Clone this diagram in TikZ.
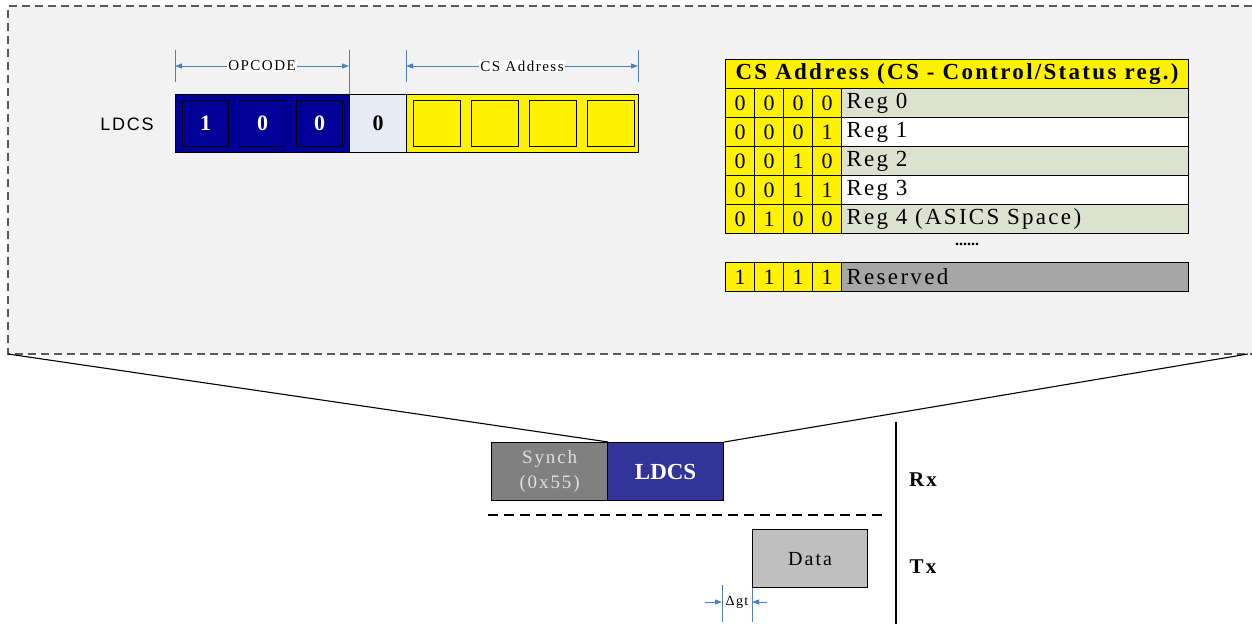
\documentclass[tikz,border=0pt]{standalone}
\usepackage{fontspec}
\setmainfont{Liberation Serif}[LetterSpace=10]
\newfontfamily\sansf{Liberation Sans}[LetterSpace=10]
\usetikzlibrary{arrows.meta}
\newcommand{\fsz}[1]{\fontsize{#1}{#1}\selectfont}
\definecolor{panel}{HTML}{F2F2F2}
\definecolor{edge}{HTML}{595959}
\definecolor{navy}{HTML}{000096}
\definecolor{ldcsblue}{HTML}{333399}
\definecolor{pale}{HTML}{E7EDF6}
\definecolor{dimblue}{HTML}{4F81BD}
\definecolor{rowgreen}{HTML}{DDE1CF}
\definecolor{resgrey}{HTML}{A6A6A6}
\definecolor{synchgrey}{HTML}{808080}
\definecolor{datagrey}{HTML}{BFBFBF}
\tikzset{
  fld/.style    = {draw, line width=1.2pt, inner sep=0pt, anchor=north west},
  bx/.style     = {fld, minimum width=46pt, minimum height=46pt},
  cell/.style   = {fld, minimum height=29pt, font=\fsz{22}},
  bit/.style    = {cell, fill=yellow, minimum width=29pt},
  reg/.style    = {cell, text width=337pt, inner xsep=5pt, align=left, font=\fsz{23}},
  dim/.style    = {draw=dimblue, line width=1pt},
  dl/.style     = {fill=white, inner sep=1pt, font=\fsz{15}},
  pframe/.style = {draw=edge, line width=1.3pt, dash pattern=on 8pt off 5pt},
}

\begin{document}
\begin{tikzpicture}[x=1pt, y=-1pt, line width=1.1pt, >={Triangle[length=7pt, width=5pt]}]
  \useasboundingbox (0,0) rectangle (1252,624);

  % ===== zoom panel =====================================================
  \coordinate (ptl) at (8,6);
  \coordinate (ptr) at (1252,6);
  \coordinate (pbl) at (8,354);
  \coordinate (pbr) at (1252,354);
  \coordinate (pzr) at (1248,354);
  \fill[panel] (ptl) rectangle (pbr);
  \draw[pframe] (ptr) -- (ptl) -- (pbl) -- (pbr);

  % ===== LDCS field =====================================================
  \node[font=\sansf\fsz{18}] (lbl) at (127,124) {LDCS};
  \node[fld, fill=navy, minimum width=174pt, minimum height=58pt] (opc) at (175,94) {};
  \node[fld, fill=pale, minimum width=57pt, minimum height=58pt, font=\fsz{22}\bfseries]
       (flag) at (349,94) {0};
  \node[fld, fill=yellow, minimum width=232pt, minimum height=58pt] (csa) at (406,94) {};
  \foreach \v [count=\i] in {1,0,0}
    \node[bx, fill=navy, text=white, font=\fsz{22}\bfseries] (op\i) at ({182+57*(\i-1)},100) {\v};
  \foreach \i in {1,...,4}
    \node[bx, fill=yellow, minimum width=47pt] (cs\i) at ({413+58*(\i-1)},100) {};

  % dimension lines
  \coordinate (t1a) at (175,50);  \coordinate (t1b) at (175,82);
  \coordinate (t2a) at (349,50);
  \coordinate (t3a) at (406,50);  \coordinate (t3b) at (406,82);
  \coordinate (t4a) at (638,50);  \coordinate (t4b) at (638,82);
  \coordinate (o1) at (175,66);   \coordinate (o2) at (349,66);
  \coordinate (c1) at (406,66);   \coordinate (c2) at (638,66);
  \draw[dim] (t1a) -- (t1b);
  \draw[dim] (t2a) -- (flag.north west);
  \draw[dim] (t3a) -- (t3b);
  \draw[dim] (t4a) -- (t4b);
  \draw[dim, <->] (o1) -- (o2) node[dl, midway] (opl) {OPCODE};
  \draw[dim, <->] (c1) -- (c2) node[dl, midway] (csl) {CS Address};

  % ===== address table ==================================================
  \node[cell, fill=yellow, minimum width=463pt, font=\fsz{23}\bfseries]
       (head) at (725,59) {CS Address (CS - Control/Status reg.)};
  \foreach \ba/\bb/\bc/\bd/\txt/\fc [count=\r] in
      {0/0/0/0/Reg 0/rowgreen, 0/0/0/1/Reg 1/white, 0/0/1/0/Reg 2/rowgreen,
       0/0/1/1/Reg 3/white, 0/1/0/0/Reg 4 (ASICS Space)/rowgreen}{
    \foreach \v [count=\k] in {\ba,\bb,\bc,\bd}
      \node[bit] (r\r-\k) at ({725+29*(\k-1)},{88+29*(\r-1)}) {\v};
    \node[reg, fill=\fc] (r\r-t) at (841,{88+29*(\r-1)}) {\txt};
  }
  \node[font=\fsz{16}\bfseries\addfontfeature{LetterSpace=0}] (dots) at (967,244) {......};
  \foreach \k in {1,...,4}
    \node[bit] (x\k) at ({725+29*(\k-1)},262) {1};
  \node[reg, fill=resgrey] (xt) at (841,262) {Reserved};

  % ===== frame on the line ==============================================
  \node[fld, fill=synchgrey, minimum width=116pt, minimum height=58pt, align=center,
        text=white!88!black, font=\fontsize{19}{25}\selectfont]
       (synch) at (491,442) {Synch\\(0x55)};
  \node[fld, fill=ldcsblue, text=white, minimum width=116pt, minimum height=58pt,
        font=\fsz{23}\bfseries\addfontfeature{LetterSpace=0}] (frm) at (607,442) {LDCS};
  \node[fld, fill=datagrey, minimum width=115pt, minimum height=58pt, font=\fsz{20}]
       (data) at (752,529) {Data};

  \draw (pbl) -- (synch.north east);
  \draw (pzr) -- (frm.north east);

  \coordinate (sl) at (488,515);  \coordinate (sr) at (888,515);
  \coordinate (vt) at (896,422);  \coordinate (vb) at (896,624);
  \draw[line width=1.3pt, dash pattern=on 10pt off 6pt] (sl) -- (sr);
  \draw[line width=1.3pt] (vt) -- (vb);
  \node[font=\fsz{21}\bfseries] (rx) at (923,480) {Rx};
  \node[font=\fsz{21}\bfseries] (tx) at (923,567) {Tx};

  % guard time
  \coordinate (g1a) at (722,585); \coordinate (g1b) at (722,622);
  \coordinate (g2b) at (752,622);
  \coordinate (ga) at (705,602);  \coordinate (g1) at (722,602);
  \coordinate (gb) at (767,602);  \coordinate (g2) at (752,602);
  \draw[dim] (g1a) -- (g1b);
  \draw[dim] (data.south west) -- (g2b);
  \draw[dim, ->] (ga) -- (g1);
  \draw[dim, ->] (gb) -- (g2);
  \node[font=\fsz{14}, inner sep=0pt] (gt) at (737,602) {Δgt};

\end{tikzpicture}
\end{document}
